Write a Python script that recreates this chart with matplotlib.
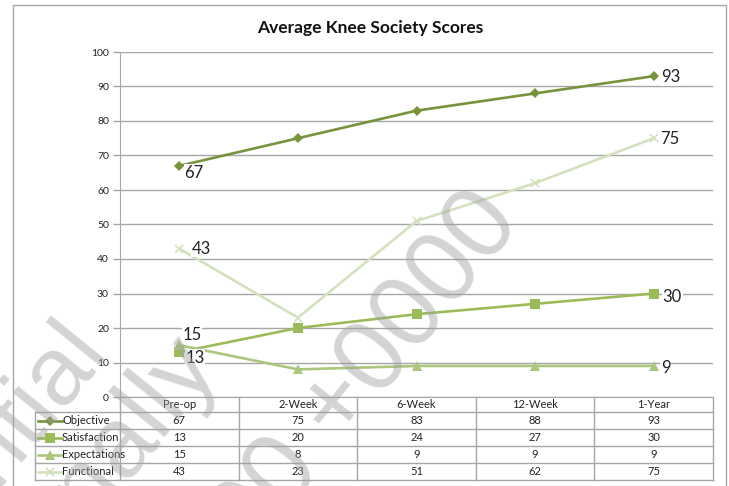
import numpy as np
import matplotlib.pyplot as plt
from matplotlib.lines import Line2D
from matplotlib.patches import Rectangle

plt.rcParams['font.family'] = ['Lato', 'DejaVu Sans']

# datos de la tabla / grafica
categories = ['Pre-op', '2-Week', '6-Week', '12-Week', '1-Year']
series_names = ['Objective', 'Satisfaction', 'Expectations', 'Functional']
objective = [67, 75, 83, 88, 93]
satisfaction = [13, 20, 24, 27, 30]
expectations = [15, 8, 9, 9, 9]
functional = [43, 23, 51, 62, 75]
y_ticks = [0, 10, 20, 30, 40, 50, 60, 70, 80, 90, 100]

series = [objective, satisfaction, expectations, functional]
colors = ['#77933C', '#9BBB59', '#ABC77C', '#D3E2BD']
markers = ['D', 's', '^', 'x']
msizes = [5, 7, 7, 6]
# desplazamiento (px) de la etiqueta del primer y ultimo punto
first_off = [(5, -7), (6, -6), (3, 10), (12, 0)]
last_off = [(7, -1), (9, -3), (7, -2), (6, -1)]

W, H = 729, 486
fig = plt.figure(figsize=(W / 100, H / 100), dpi=100)


def fx(px):
    return px / W


def fy(py):
    return 1 - py / H


grid_col = '#a6a6a6'

# ---- area de la grafica ----
ax = fig.add_axes([fx(120), fy(397), (713 - 120) / W, (397 - 52) / H])
x = np.arange(len(categories))
for vals, c, m, ms, fo, lo in zip(series, colors, markers, msizes, first_off, last_off):
    ax.plot(x, vals, color=c, lw=1.9, marker=m, ms=ms, mew=1.2 if m == 'x' else 0,
            mfc=c, mec=c, zorder=3, clip_on=False)
    for i, off in ((0, fo), (len(x) - 1, lo)):
        ax.annotate(str(vals[i]), (x[i], vals[i]), xytext=(off[0] * 0.72, off[1] * 0.72),
                    textcoords='offset points', ha='left', va='center',
                    fontsize=12, color='#222222', zorder=4,
                    bbox=dict(fc='white', ec='none', pad=0.5))

ax.set_xlim(-0.5, len(categories) - 0.5)
ax.set_ylim(0, 100)
ax.set_yticks(y_ticks)
ax.set_xticks([])
ax.grid(axis='y', color=grid_col, lw=1)
ax.set_axisbelow(True)
for s in ['top', 'right']:
    ax.spines[s].set_visible(False)
ax.spines['left'].set_color(grid_col)
ax.spines['bottom'].set_color(grid_col)
ax.tick_params(axis='y', length=5, width=1, color=grid_col, labelsize=7.5, pad=3,
               labelcolor='#222222')

fig.text(fx(370), fy(28), 'Average Knee Society Scores', ha='center', va='center',
         fontsize=12.5, fontweight='bold', color='#111111')

# ---- tabla de datos ----
colw = (713 - 120) / len(categories)
x_left = -0.5 - (120 - 35) / colw
rows = [397, 412, 429, 446, 463, 480]
ax_t = fig.add_axes([fx(35), fy(480), (713 - 35) / W, (480 - 397) / H])
ax_t.set_xlim(x_left, len(categories) - 0.5)
ax_t.set_ylim(rows[-1], rows[0])
ax_t.axis('off')

for r in rows[1:]:
    ax_t.plot([x_left, len(categories) - 0.5], [r, r], color=grid_col, lw=1, clip_on=False)
for i in range(len(categories) + 1):
    ax_t.plot([i - 0.5, i - 0.5], [rows[0], rows[-1]], color=grid_col, lw=1, clip_on=False)
ax_t.plot([x_left, x_left], [rows[1], rows[-1]], color=grid_col, lw=1, clip_on=False)

for i, cat in enumerate(categories):
    ax_t.text(i, (rows[0] + rows[1]) / 2, cat, ha='center', va='center', fontsize=8,
              color='#222222')

px_u = 1 / colw
for k, (name, vals, c, m, ms) in enumerate(zip(series_names, series, colors, markers, msizes)):
    yc = (rows[k + 1] + rows[k + 2]) / 2
    ax_t.add_line(Line2D([x_left + 3 * px_u, x_left + 27 * px_u], [yc, yc], color=c, lw=1.9))
    ax_t.add_line(Line2D([x_left + 15 * px_u], [yc], color=c, marker=m, ms=ms,
                         mew=1.2 if m == 'x' else 0, mfc=c, mec=c))
    ax_t.text(x_left + 27 * px_u, yc, name, ha='left', va='center', fontsize=8,
              color='#222222')
    for i, v in enumerate(vals):
        ax_t.text(i, yc, str(v), ha='center', va='center', fontsize=8, color='#222222')

# ---- marco exterior ----
fig.add_artist(Rectangle((fx(13), fy(495)), (726 - 13) / W, (495 - 5) / H,
                         transform=fig.transFigure, fill=False, ec=grid_col, lw=1))

# ---- marca de agua ----
wm = dict(rotation=51, rotation_mode='anchor', ha='right', va='baseline',
          color='#a0a0a0', alpha=0.45, family='Liberation Sans', zorder=10)
fig.text(fx(108), fy(350), 'Confidential', fontsize=70, **wm)
fig.text(fx(218), fy(362), 'Personally', fontsize=72, **wm)
fig.text(fx(522), fy(222), '12:00:00 +0000', fontsize=74, **wm)

fig.savefig('out.png', dpi=100)
